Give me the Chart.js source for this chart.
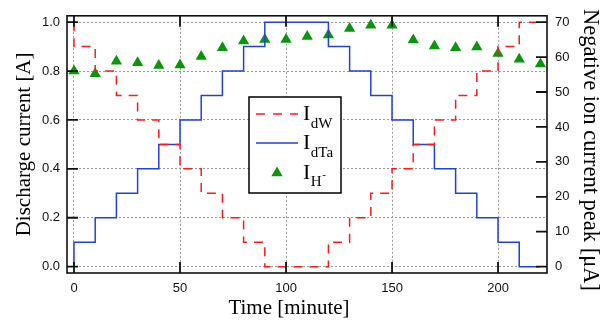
<!DOCTYPE html>
<html>
<head>
<meta charset="utf-8">
<script src="https://cdn.jsdelivr.net/npm/chart.js@4.4.1/dist/chart.umd.min.js"></script>
<style>
  body { margin: 0; background: #fff; }
  #wrap { width: 606px; height: 320px; }
</style>
</head>
<body>
<div id="wrap"><canvas id="graficoCorriente" width="606" height="320"></canvas></div>
<script>
// tiempos de cambio de escalon (minutos), el primero repetido para el arranque
const stepMinutes = [0, 0, 10, 20, 30, 40, 50, 60, 70, 80, 90, 100, 110, 120, 130, 140, 150, 160, 170, 180, 190, 200, 210, 220];
const dWCurrent  = [1.0, 0.9, 0.8, 0.7, 0.6, 0.5, 0.4, 0.3, 0.2, 0.1, 0, 0, 0, 0.1, 0.2, 0.3, 0.4, 0.5, 0.6, 0.7, 0.8, 0.9, 1.0, 1.0];
const dTaCurrent = [0, 0.1, 0.2, 0.3, 0.4, 0.5, 0.6, 0.7, 0.8, 0.9, 1.0, 1.0, 1.0, 0.9, 0.8, 0.7, 0.6, 0.5, 0.4, 0.3, 0.2, 0.1, 0, 0];

// pico de corriente de iones negativos (uA)
const ionMinutes = [0, 10, 20, 30, 40, 50, 60, 70, 80, 90, 100, 110, 120, 130, 140, 150, 160, 170, 180, 190, 200, 210, 220];
const ionPeak    = [56.0, 55.2, 58.8, 58.4, 57.6, 57.7, 60.2, 62.7, 64.6, 65.0, 65.0, 65.9, 66.3, 68.2, 69.1, 69.1, 64.9, 63.2, 62.7, 62.9, 61.0, 59.4, 58.0];

const xTicks = [0, 50, 100, 150, 200];
const leftTicks = [0, 0.2, 0.4, 0.6, 0.8, 1.0];
const rightTicks = [0, 10, 20, 30, 40, 50, 60, 70];

const xTitle = 'Time [minute]';
const leftTitle = 'Discharge current [A]';
const rightTitle = 'Negative ion current peak [\u03bcA]';

const rojo = '#ff1a1a';
const azul = '#1f43d2';
const verde = '#0a960a';
const serif = '"Liberation Serif", "Times New Roman", serif';
const sans = '"Liberation Sans", Arial, sans-serif';

function toPoints(xs, ys) {
  return xs.map((x, i) => ({ x: x, y: ys[i] }));
}

// marco, marcas de ticks hacia adentro, titulos y leyenda
const decorado = {
  id: 'decorado',
  afterDraw(chart) {
    const ctx = chart.ctx;
    const area = chart.chartArea;
    const sx = chart.scales.x, sy = chart.scales.y, sy1 = chart.scales.y1;
    const largo = 11;
    ctx.save();

    ctx.strokeStyle = '#111';
    ctx.lineWidth = 1.8;
    ctx.beginPath();
    xTicks.forEach(v => {
      const px = sx.getPixelForValue(v);
      ctx.moveTo(px, area.bottom); ctx.lineTo(px, area.bottom - largo);
      ctx.moveTo(px, area.top); ctx.lineTo(px, area.top + largo);
    });
    leftTicks.forEach(v => {
      const py = sy.getPixelForValue(v);
      ctx.moveTo(area.left, py); ctx.lineTo(area.left + largo, py);
    });
    rightTicks.forEach(v => {
      const py = sy1.getPixelForValue(v);
      ctx.moveTo(area.right, py); ctx.lineTo(area.right - largo, py);
    });
    ctx.stroke();

    ctx.lineWidth = 1.6;
    ctx.strokeRect(area.left, area.top, area.right - area.left, area.bottom - area.top);

    // titulos de ejes
    ctx.fillStyle = '#000';
    ctx.font = '21px ' + serif;
    ctx.textAlign = 'center';
    ctx.textBaseline = 'alphabetic';
    ctx.fillText(xTitle, 289, 314);

    const cy = (area.top + area.bottom) / 2;
    ctx.save();
    ctx.translate(30, cy);
    ctx.rotate(-Math.PI / 2);
    ctx.fillText(leftTitle, 0, 0);
    ctx.restore();

    ctx.save();
    ctx.font = '22.5px ' + serif;
    ctx.translate(584, 150);
    ctx.rotate(Math.PI / 2);
    ctx.fillText(rightTitle, 0, 0);
    ctx.restore();

    // leyenda
    const lx = 249, ly = 97, lw = 92, lh = 96;
    ctx.fillStyle = '#fff';
    ctx.fillRect(lx, ly, lw, lh);
    ctx.strokeStyle = '#000';
    ctx.lineWidth = 1.5;
    ctx.strokeRect(lx, ly, lw, lh);

    ctx.lineWidth = 1.5;
    ctx.strokeStyle = rojo;
    ctx.setLineDash([9, 8]);
    ctx.beginPath(); ctx.moveTo(256, 114); ctx.lineTo(298, 114); ctx.stroke();
    ctx.setLineDash([]);
    ctx.strokeStyle = azul;
    ctx.beginPath(); ctx.moveTo(256, 143); ctx.lineTo(298, 143); ctx.stroke();

    const r = 6.5, tx = 277, ty = 173;
    ctx.fillStyle = verde;
    ctx.beginPath();
    ctx.moveTo(tx, ty - r);
    ctx.lineTo(tx + r * 0.866, ty + r / 2);
    ctx.lineTo(tx - r * 0.866, ty + r / 2);
    ctx.closePath();
    ctx.fill();

    const etiquetas = [
      { sub: 'dW', base: 120 },
      { sub: 'dTa', base: 149 },
      { sub: 'H', base: 178.5 }
    ];
    ctx.fillStyle = '#000';
    ctx.textAlign = 'left';
    etiquetas.forEach((e, i) => {
      ctx.font = '22px ' + serif;
      ctx.fillText('I', 303, e.base);
      const w = ctx.measureText('I').width;
      ctx.font = '15px ' + serif;
      ctx.fillText(e.sub, 303 + w + 0.5, e.base + 7.5);
      if (i === 2) {
        const wh = ctx.measureText(e.sub).width;
        ctx.font = '11px ' + serif;
        ctx.fillText('-', 303 + w + 1 + wh, e.base - 1);
      }
    });

    ctx.restore();
  }
};

const ctx = document.getElementById('graficoCorriente').getContext('2d');

const config = {
  type: 'line',
  data: {
    datasets: [
      {
        label: 'IdW',
        data: toPoints(stepMinutes, dWCurrent),
        borderColor: rojo,
        borderWidth: 1.5,
        borderDash: [9, 7],
        stepped: 'before',
        pointRadius: 0,
        fill: false,
        yAxisID: 'y'
      },
      {
        label: 'IdTa',
        data: toPoints(stepMinutes, dTaCurrent),
        borderColor: azul,
        borderWidth: 1.5,
        stepped: 'before',
        pointRadius: 0,
        fill: false,
        yAxisID: 'y'
      },
      {
        label: 'IH-',
        data: toPoints(ionMinutes, ionPeak),
        showLine: false,
        pointStyle: 'triangle',
        pointRadius: 6.5,
        pointBackgroundColor: verde,
        pointBorderColor: verde,
        pointBorderWidth: 0,
        yAxisID: 'y1'
      }
    ]
  },
  options: {
    responsive: false,
    animation: false,
    devicePixelRatio: 1,
    layout: { padding: { top: 13, left: 0, right: 0, bottom: 0 } },
    plugins: {
      legend: { display: false },
      tooltip: { enabled: false }
    },
    scales: {
      x: {
        type: 'linear',
        min: -3.3,
        max: 223.1,
        afterBuildTicks: (scale) => { scale.ticks = xTicks.map(v => ({ value: v })); },
        afterFit: (scale) => { scale.height = 47; },
        grid: { color: '#9a9a9a', lineWidth: 1, drawTicks: false },
        border: { display: false, dash: [2, 2] },
        ticks: { padding: 8, color: '#111', font: { family: sans, size: 13 }, maxRotation: 0 }
      },
      y: {
        position: 'left',
        min: -0.026,
        max: 1.026,
        afterBuildTicks: (scale) => { scale.ticks = leftTicks.map(v => ({ value: v })); },
        afterFit: (scale) => { scale.width = 67; },
        grid: { color: '#9a9a9a', lineWidth: 1, drawTicks: false },
        border: { display: false, dash: [2, 2] },
        ticks: { padding: 7, color: '#111', font: { family: sans, size: 13 }, callback: (v) => v.toFixed(1) }
      },
      y1: {
        position: 'right',
        min: -1.82,
        max: 71.82,
        afterBuildTicks: (scale) => { scale.ticks = rightTicks.map(v => ({ value: v })); },
        afterFit: (scale) => { scale.width = 59; },
        grid: { drawOnChartArea: false, drawTicks: false },
        border: { display: false },
        ticks: { padding: 8, color: '#111', font: { family: sans, size: 13 } }
      }
    }
  },
  plugins: [decorado]
};

new Chart(ctx, config);
</script>
</body>
</html>
